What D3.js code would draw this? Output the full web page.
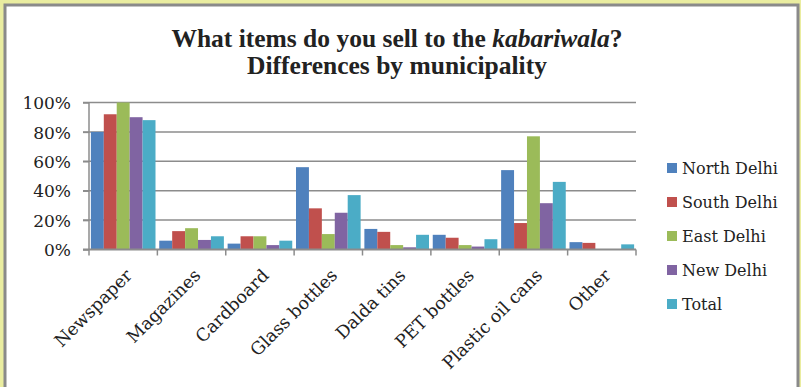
<!DOCTYPE html>
<html>
<head>
<meta charset="utf-8">
<script src="https://cdn.jsdelivr.net/npm/d3@7/dist/d3.min.js"></script>
<style>
  html, body { margin: 0; padding: 0; background: #eaeda0; }
  svg { display: block; }
</style>
</head>
<body>
<svg id="chart" width="801" height="387"></svg>
<script>
// Share of households selling each item to the kabariwala, by municipality (%)
const categories = ["Newspaper", "Magazines", "Cardboard", "Glass bottles", "Dalda tins", "PET bottles", "Plastic oil cans", "Other"];
const seriesNames = ["North Delhi", "South Delhi", "East Delhi", "New Delhi", "Total"];
const northDelhi = [80, 6, 4, 56, 14, 10, 54, 5];
const southDelhi = [92, 12.5, 9, 28, 12, 8, 18, 4.5];
const eastDelhi  = [100, 14.5, 9, 10.5, 3, 3, 77, 0];
const newDelhi   = [90, 6.5, 3, 25, 1.5, 2, 31.5, 0];
const total      = [88, 9, 6, 37, 10, 7, 46, 3.5];
const yTicks = [0, 20, 40, 60, 80, 100];
const colors = ["#4f81bd", "#c0504d", "#9bbb59", "#8064a2", "#4bacc6"];

const seriesValues = [northDelhi, southDelhi, eastDelhi, newDelhi, total];

const svg = d3.select("#chart");
const serif = "'DejaVu Serif', serif";

// chart frame
svg.append("rect").attr("x", 0).attr("y", 0).attr("width", 801).attr("height", 387).attr("fill", "#eaeda0");
svg.append("rect").attr("x", 5).attr("y", 5).attr("width", 793).attr("height", 400)
  .attr("fill", "#ffffff").attr("stroke", "#8a8a8a").attr("stroke-width", 3);

// title
const title = svg.append("text").attr("text-anchor", "middle")
  .attr("font-family", "'Liberation Serif', serif").attr("font-weight", "bold")
  .attr("font-size", 25.5).attr("fill", "#222");
const l1 = title.append("tspan").attr("x", 397).attr("y", 47);
l1.append("tspan").text("What items do you sell to the ");
l1.append("tspan").attr("font-style", "italic").text("kabariwala");
l1.append("tspan").text("?");
title.append("tspan").attr("x", 397).attr("y", 74).text("Differences by municipality");

// scales
const x0 = d3.scaleBand().domain(categories).range([89, 636]).paddingInner(0).paddingOuter(0);
const x1 = d3.scaleBand().domain(seriesNames).range([0, x0.bandwidth()]).paddingInner(0).paddingOuter(0.145);
const y = d3.scaleLinear().domain([0, 100]).range([249.5, 102.5]);

// gridlines
svg.append("g").selectAll("line").data(yTicks.filter(d => d > 0)).join("line")
  .attr("x1", 83).attr("x2", 636)
  .attr("y1", d => y(d)).attr("y2", d => y(d))
  .attr("stroke", "#8c8c8c").attr("stroke-width", 1.5);

// bars
const groups = svg.append("g").selectAll("g").data(categories).join("g")
  .attr("transform", d => `translate(${x0(d)},0)`);
groups.selectAll("rect")
  .data((c, i) => seriesNames.map((s, j) => ({ s, j, v: seriesValues[j][i] })))
  .join("rect")
  .attr("x", d => x1(d.s))
  .attr("width", x1.bandwidth())
  .attr("y", d => y(d.v))
  .attr("height", d => y(0) - y(d.v))
  .attr("fill", d => colors[d.j]);

// y axis
const yAxis = svg.append("g").attr("transform", "translate(89,0)")
  .call(d3.axisLeft(y).tickValues(yTicks).tickFormat(d => d + "%").tickSize(6).tickPadding(12));
yAxis.select(".domain").attr("stroke", "#8c8c8c").attr("stroke-width", 1.5).attr("d", `M0,${y(100)}V${y(0)}`);
yAxis.selectAll(".tick line").attr("stroke", "#8c8c8c").attr("stroke-width", 1.5);
yAxis.selectAll("text").attr("font-family", serif).attr("font-size", 17).attr("fill", "#222")
  .attr("x", -18).attr("dy", "0.36em");

// x axis
const xAxis = svg.append("g").attr("transform", `translate(0,${y(0)})`);
xAxis.append("line").attr("x1", 83).attr("x2", 636).attr("y1", 0).attr("y2", 0)
  .attr("stroke", "#8c8c8c").attr("stroke-width", 2);
const tickPos = categories.map(c => x0(c)).concat([636]);
xAxis.selectAll(".xt").data(tickPos).join("line").attr("class", "xt")
  .attr("x1", d => d).attr("x2", d => d).attr("y1", 0).attr("y2", 6)
  .attr("stroke", "#8c8c8c").attr("stroke-width", 1.5);
xAxis.selectAll(".xl").data(categories).join("text").attr("class", "xl")
  .attr("text-anchor", "end")
  .attr("font-family", serif).attr("font-size", 17.5).attr("fill", "#222")
  .attr("transform", d => `translate(${x0(d) + x0.bandwidth() / 2 + 10},${27}) rotate(-45)`)
  .text(d => d);

// legend
const legend = svg.append("g").selectAll("g").data(seriesNames).join("g")
  .attr("transform", (d, i) => `translate(667,${168 + i * 34})`);
legend.append("rect").attr("x", 0).attr("y", -5).attr("width", 10).attr("height", 10)
  .attr("fill", (d, i) => colors[i]);
legend.append("text").attr("x", 15).attr("y", 6)
  .attr("font-family", serif).attr("font-size", 16).attr("fill", "#222").text(d => d);
</script>
</body>
</html>
